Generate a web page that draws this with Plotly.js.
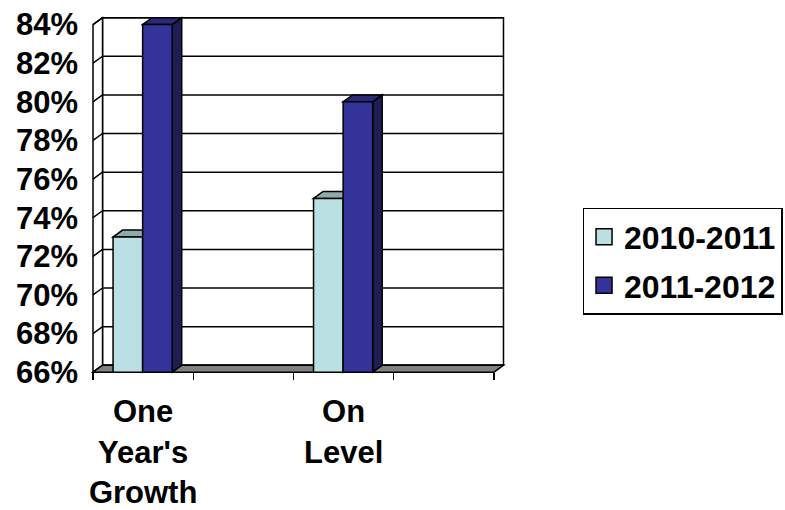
<!DOCTYPE html>
<html>
<head>
<meta charset="utf-8">
<script src="https://cdn.plot.ly/plotly-3.0.1.min.js"></script>
<style>html,body{margin:0;padding:0;background:#fff;}#chart{width:785px;height:510px;}</style>
</head>
<body>
<div id="chart"></div>
<script>
// ---- data ----
const categories = ["One Year's Growth", "", "On Level", ""];
const seriesNames = ["2010-2011", "2011-2012"];
const series2010 = [73, null, 75, null];
const series2011 = [84, null, 80, null];
const yTickValues = [66, 68, 70, 72, 74, 76, 78, 80, 82, 84];
const yTickLabels = ["66%", "68%", "70%", "72%", "74%", "76%", "78%", "80%", "82%", "84%"];

// ---- style / geometry ----
const frontColors = ["#BBE0E3", "#333399"];
const topColors = ["#8FAAAC", "#2A2A78"];
const sideColors = ["#7FA0A3", "#1E1E55"];
const yBase = 66, yTop = 84;
const dx = 0.095, dy = 0.36;          // depth offset (data units)
const barW = 0.295, offsets = [-0.30, -0.005];
const pxX = 100.4, x0px = 92.7, pxY = 19.28, y0px = 372;
const xr = [-0.03, categories.length + 0.13];
const yr = [65.7, 84.6];
const mL = x0px + xr[0] * pxX, plotW = (xr[1] - xr[0]) * pxX;
const mB = 510 - (y0px + (yBase - yr[0]) * pxY), plotH = (yr[1] - yr[0]) * pxY;
const mR = 785 - mL - plotW, mT = 510 - mB - plotH;

const xs = categories.map((c, i) => i + 0.5);
const allSeries = [series2010, series2011];

const font = {family: "Liberation Sans, Arial, sans-serif", size: 31, color: "#000", weight: "bold"};
const legendFont = {family: "Liberation Sans, Arial, sans-serif", size: 32, color: "#000", weight: "bold"};
const nCat = categories.length;
const shapes = [];
const L = {color: "#000", width: 1.5};
// back wall
shapes.push({type: "rect", xref: "x", yref: "y", layer: "below", x0: dx, x1: nCat + dx, y0: yBase + dy, y1: yTop + dy, fillcolor: "#fff", line: L});
// back wall gridlines
yTickValues.forEach(v => {
  shapes.push({type: "line", xref: "x", yref: "y", layer: "below", x0: dx, x1: nCat + dx, y0: v + dy, y1: v + dy, line: L});
});
// left side wall
shapes.push({type: "path", xref: "x", yref: "y", layer: "below",
  path: `M0,${yBase} L0,${yTop} L${dx},${yTop + dy} L${dx},${yBase + dy} Z`, fillcolor: "#fff", line: L});
yTickValues.forEach(v => {
  shapes.push({type: "line", xref: "x", yref: "y", layer: "below", x0: 0, x1: dx, y0: v, y1: v + dy, line: L});
});
// floor
shapes.push({type: "path", xref: "x", yref: "y", layer: "below",
  path: `M0,${yBase} L${nCat},${yBase} L${nCat + dx},${yBase + dy} L${dx},${yBase + dy} Z`, fillcolor: "#808080", line: L});
// bar top / side faces
xs.forEach((c, i) => {
  allSeries.forEach((s, k) => {
    const v = s[i];
    if (v == null) return;
    const a = c + offsets[k], b = a + barW;
    shapes.push({type: "path", xref: "x", yref: "y", layer: "below",
      path: `M${b},${yBase} L${b},${v} L${b + dx},${v + dy} L${b + dx},${yBase + dy} Z`, fillcolor: sideColors[k], line: L});
    shapes.push({type: "path", xref: "x", yref: "y", layer: "below",
      path: `M${a},${v} L${b},${v} L${b + dx},${v + dy} L${a + dx},${v + dy} Z`, fillcolor: topColors[k], line: L});
  });
});

const traces = [];
allSeries.forEach((s, k) => {
  traces.push({type: "bar", x: xs, y: s.map(v => v == null ? null : v - yBase), base: yBase,
    width: barW, offset: offsets[k], name: seriesNames[k], showlegend: false,
    marker: {color: frontColors[k], line: {color: "#000", width: 1.5}}, hoverinfo: "skip"});
});
allSeries.forEach((s, k) => {
  traces.push({type: "scatter", mode: "markers", x: [null], y: [null], name: seriesNames[k],
    legendgroup: "g" + k,
    marker: {symbol: "square", size: 20, color: frontColors[k], line: {color: "#000", width: 1.5}}});
});

const layout = {
  width: 785, height: 510,
  margin: {l: mL, r: mR, t: mT, b: mB, autoexpand: false},
  paper_bgcolor: "#fff", plot_bgcolor: "#fff",
  showlegend: true,
  legend: {x: (583 - mL) / plotW, xanchor: "left", y: (510 - mB - 208) / plotH, yanchor: "top",
    bgcolor: "#fff", bordercolor: "#000", borderwidth: 1.5, font: legendFont, itemclick: false,
    itemsizing: "trace", traceorder: "grouped", tracegroupgap: 4},
  xaxis: {range: xr, showgrid: false, zeroline: false, showline: false,
    tickmode: "array", tickvals: xs, ticktext: categories.map(c => c.split(" ").join("<br>")),
    ticks: "", tickfont: font, anchor: "free", position: (yBase - yr[0]) / (yr[1] - yr[0]),
    ticklabelstandoff: 18,
    minor: {tickmode: "array", tickvals: categories.map((c, i) => i).concat([nCat]), ticks: "outside", ticklen: 7, tickwidth: 1.5, tickcolor: "#000", showgrid: false},
    fixedrange: true},
  yaxis: {range: yr, showgrid: false, zeroline: false, showline: false,
    tickmode: "array", tickvals: yTickValues, ticktext: yTickLabels, ticks: "", tickfont: font,
    ticklabelstandoff: 11, fixedrange: true},
  shapes: shapes
};

Plotly.newPlot("chart", traces, layout, {displayModeBar: false, staticPlot: true});
</script>
</body>
</html>
